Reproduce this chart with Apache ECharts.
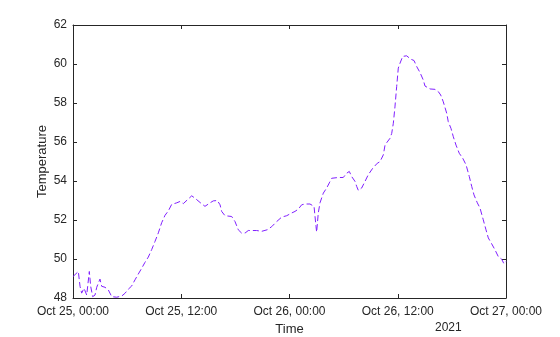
<!DOCTYPE html>
<html>
<head>
<meta charset="utf-8">
<script src="https://cdn.jsdelivr.net/npm/echarts@6/dist/echarts.min.js"></script>
<style>html,body{margin:0;padding:0;background:#fff}#c{width:560px;height:337px}</style>
</head>
<body>
<div id="c"></div>
<script>
// hours since Oct 25, 2021 00:00
const hours = [0,0.59,0.78,0.96,1.22,1.52,1.81,1.96,2.18,2.44,2.63,2.99,3.18,3.55,3.91,4.10,4.29,4.84,5.40,5.76,6.13,6.51,6.87,7.24,7.62,7.98,8.35,8.72,9.09,9.46,9.83,10.20,10.56,10.94,11.50,11.86,12.23,12.67,13.16,13.52,14.08,14.63,15.19,15.55,16.00,16.30,16.48,16.85,17.59,17.96,18.32,18.69,19.07,19.43,20.36,20.92,21.54,22.03,22.58,23.14,23.69,24.24,24.61,24.98,25.35,25.72,26.27,26.72,26.94,27.01,27.19,27.38,27.75,28.12,28.41,28.68,29.41,29.96,30.34,30.63,30.89,31.26,31.45,31.63,32.00,32.37,32.73,33.22,33.73,34.03,34.40,34.59,34.77,35.14,35.33,35.51,35.69,35.88,36.06,36.25,36.55,36.99,37.43,37.80,38.10,38.47,38.83,39.02,39.58,40.13,40.50,40.76,41.05,41.43,41.60,41.90,42.16,42.46,42.82,43.20,43.57,43.93,44.20,44.45,44.82,45.12,45.48,45.78,46.04,46.41,46.78,47.15,47.52,47.78,48.0];
const temperature = [49.1,49.36,48.6,48.25,48.5,48.15,49.36,48.6,48.07,48.15,48.55,48.97,48.6,48.55,48.42,48.33,48.07,48.04,48.1,48.24,48.45,48.62,48.93,49.23,49.53,49.83,50.1,50.48,50.9,51.34,51.86,52.24,52.46,52.8,52.88,52.95,52.84,53.03,53.24,53.12,52.9,52.7,52.88,52.98,53.0,52.78,52.44,52.22,52.18,51.92,51.5,51.33,51.33,51.46,51.46,51.42,51.5,51.66,51.92,52.15,52.22,52.36,52.44,52.56,52.78,52.82,52.82,52.7,51.66,51.38,52.36,52.88,53.38,53.64,53.9,54.14,54.18,54.18,54.4,54.49,54.23,53.98,53.72,53.52,53.64,53.98,54.32,54.65,54.91,54.99,55.34,55.84,55.96,56.19,56.44,56.96,57.8,58.84,59.79,60.04,60.39,60.42,60.25,60.18,59.87,59.56,59.18,58.87,58.72,58.7,58.58,58.41,58.06,57.47,57.04,56.7,56.27,55.84,55.42,55.17,54.83,54.23,53.72,53.29,52.88,52.61,52.01,51.5,51.08,50.78,50.47,50.12,49.99,49.75,49.87];
const xTickLabels = ['Oct 25, 00:00','Oct 25, 12:00','Oct 26, 00:00','Oct 26, 12:00','Oct 27, 00:00'];
const yearLabel = '2021';

const axisColor = '#262626';
const font = 'Liberation Sans, Arial, Helvetica, sans-serif';
const chart = echarts.init(document.getElementById('c'), null, {renderer: 'canvas'});
function tick() { return {show: true, inside: true, length: 4, lineStyle: {color: axisColor, width: 1}}; }
function line() { return {show: true, onZero: false, lineStyle: {color: axisColor, width: 1}}; }
chart.setOption({
  animation: false,
  grid: {left: 73, right: 54, top: 25, bottom: 39, containLabel: false, outerBoundsMode: 'none'},
  xAxis: [{
      type: 'value', min: 0, max: 48, interval: 12, position: 'bottom',
      axisLine: line(), axisTick: tick(), splitLine: {show: false},
      name: 'Time', nameLocation: 'middle', nameGap: 25, nameMoveOverlap: false,
      nameTextStyle: {color: axisColor, fontSize: 13, fontFamily: font},
      axisLabel: {color: axisColor, fontSize: 12, fontFamily: font, margin: 8,
        formatter: v => xTickLabels[Math.round(v / 12)]}
    }, {
      type: 'value', min: 0, max: 48, interval: 12, position: 'top',
      axisLine: line(), axisTick: tick(), splitLine: {show: false},
      axisLabel: {show: false}
    }],
  yAxis: [{
      type: 'value', min: 48, max: 62, interval: 2, position: 'left',
      axisLine: line(), axisTick: tick(), splitLine: {show: false},
      name: 'Temperature', nameLocation: 'middle', nameGap: 24, nameMoveOverlap: false,
      nameTextStyle: {color: axisColor, fontSize: 13, fontFamily: font},
      axisLabel: {color: axisColor, fontSize: 12, fontFamily: font, margin: 6}
    }, {
      type: 'value', min: 48, max: 62, interval: 2, position: 'right',
      axisLine: line(), axisTick: tick(), splitLine: {show: false},
      axisLabel: {show: false}
    }],
  graphic: [{
    type: 'text', left: 435, top: 322,
    style: {text: yearLabel, fill: axisColor, font: '12px ' + font}
  }],
  series: [{
    type: 'line',
    data: hours.map((h, i) => [h, temperature[i]]),
    showSymbol: false,
    lineStyle: {color: '#8020ff', width: 1, type: [6, 3]},
    clip: true
  }]
});
</script>
</body>
</html>
